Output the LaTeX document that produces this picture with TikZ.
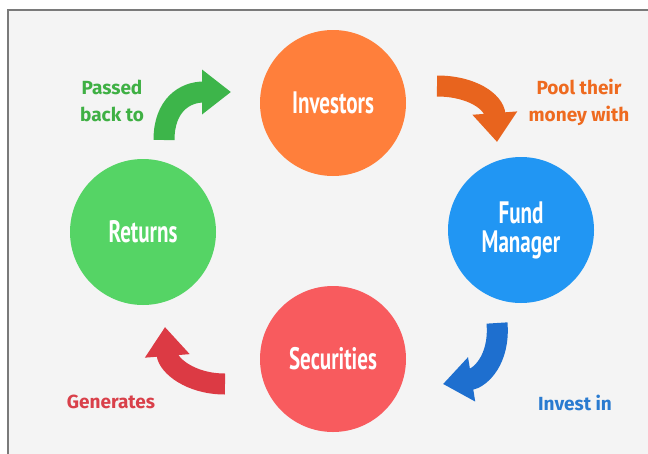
\documentclass[tikz,border=0pt]{standalone}
\usepackage{fontspec}
\setmainfont{Fira Sans}
\newfontfamily\condfont{PT Sans}[FakeStretch=0.68]
\usetikzlibrary{arrows.meta}
\definecolor{bgc}{HTML}{F4F4F4}
\definecolor{framec}{HTML}{7A7A7A}
\definecolor{invc}{HTML}{FF7F3B}
\definecolor{fundc}{HTML}{2196F3}
\definecolor{secc}{HTML}{F85B5E}
\definecolor{retc}{HTML}{55D465}
\definecolor{garrow}{HTML}{3DB54A}
\definecolor{gtext}{HTML}{3FB044}
\definecolor{oarrow}{HTML}{E8641E}
\definecolor{otext}{HTML}{EE6A1F}
\definecolor{barrow}{HTML}{1E6FCF}
\definecolor{btext}{HTML}{2A7BD0}
\definecolor{rarrow}{HTML}{DC3A44}
\definecolor{rtext}{HTML}{D9404A}
\tikzset{
  bubble/.style={circle, minimum size=146pt, inner sep=0pt, text=white,
    font=\condfont\bfseries\fontsize{31}{31}\selectfont, align=center},
  lbl/.style={font=\bfseries\fontsize{19}{27}\selectfont, align=center, inner sep=0pt},
  curvearrow/.style={line width=21pt, -{Triangle[length=29pt,width=43pt]}}
}
\begin{document}
\begin{tikzpicture}[x=1pt,y=-1pt]
\useasboundingbox (0,0) rectangle (648,453);
\fill[white] (0,0) rectangle (648,453);
\fill[bgc] (8,10) rectangle (660,470);
\draw[framec, line width=1.5pt] (8,470) -- (8,10) -- (660,10);

\node[bubble, fill=invc] (inv) at (333,103) {Investors};
\node[bubble, fill=fundc] (fund) at (521,230) {Fund\\[-2pt]Manager};
\node[bubble, fill=secc] (sec) at (333,359) {Securities};
\node[bubble, fill=retc] (ret) at (143,232) {Returns};

\node[lbl, text=gtext] (lp) at (112,101) {Passed\\back to};
\node[lbl, text=otext] (lo) at (579,102) {Pool their\\money with};
\node[lbl, text=btext] (lb) at (575,403) {Invest in};
\node[lbl, text=rtext] (lr) at (111,402) {Generates};

\coordinate (g1) at (164,140);
\coordinate (g2) at (231,92);
\coordinate (o1) at (437,86);
\coordinate (o2) at (497,142);
\coordinate (b1) at (497,323);
\coordinate (b2) at (443,384);
\coordinate (r1) at (225,384);
\coordinate (r2) at (165,327);

\draw[curvearrow, garrow] (g1) .. controls (164,105) and (185,92) .. (g2);
\draw[curvearrow, oarrow] (o1) .. controls (472,86) and (494,102) .. (o2);
\draw[curvearrow, barrow] (b1) .. controls (500,360) and (480,378) .. (b2);
\draw[curvearrow, rarrow] (r1) .. controls (190,384) and (168,365) .. (r2);
\end{tikzpicture}
\end{document}
